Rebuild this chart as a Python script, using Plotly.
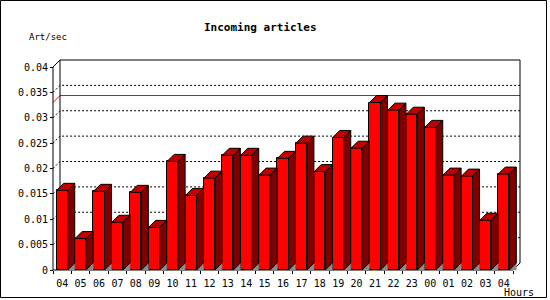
import plotly.graph_objects as go

# ---- data ----
hours = ["04", "05", "06", "07", "08", "09", "10", "11", "12", "13", "14", "15", "16",
         "17", "18", "19", "20", "21", "22", "23", "00", "01", "02", "03", "04"]
art_per_sec = [0.0157, 0.0062, 0.0155, 0.0094, 0.0153, 0.0084, 0.0214, 0.0147, 0.0181,
               0.0226, 0.0226, 0.0187, 0.0220, 0.0250, 0.0194, 0.0261, 0.0240, 0.0330,
               0.0315, 0.0307, 0.0281, 0.0187, 0.0185, 0.0098, 0.0189]
y_ticks = [0, 0.005, 0.01, 0.015, 0.02, 0.025, 0.03, 0.035, 0.04]
y_tick_text = ["0", "0.005", "0.01", "0.015", "0.02", "0.025", "0.03", "0.035", "0.04"]

# ---- geometry (pixel based layout) ----
W, H = 550, 300
L, R, T, B = 50, 524, 57, 273          # plot area in px
X0PX, Y0PX = 53, 270                   # front origin in px
SX = 460 / len(hours)                  # px per category
SY = 203 / 0.04                        # px per unit
DX = 7 / SX                            # depth in x units
DY = 7 / SY                            # depth in y units
BW = 0.6                               # bar front width
N = len(hours)
YTOP = 0.04 + DY

def px(xp):
    return (xp - L) / (R - L)

def py(yp):
    return (B - yp) / (B - T)

FONT = "DejaVu Sans Mono"
fig = go.Figure()

# front faces
centers = [i + 0.5 for i in range(N)]
fig.add_trace(go.Bar(x=centers, y=art_per_sec, width=BW,
                     marker=dict(color="#ff0000", line=dict(color="black", width=1)),
                     hoverinfo="skip", showlegend=False))

def poly_trace(pts_list, color, line_color="black", lw=1):
    xs, ys = [], []
    for pts in pts_list:
        for (a, b) in pts:
            xs.append(a); ys.append(b)
        xs.append(pts[0][0]); ys.append(pts[0][1])
        xs.append(None); ys.append(None)
    return go.Scatter(x=xs, y=ys, mode="lines", fill="toself", fillcolor=color,
                      line=dict(color=line_color, width=lw), hoverinfo="skip",
                      showlegend=False)

floor, sides, tops = [], [], []
for c, v in zip(centers, art_per_sec):
    xl, xr = c - BW / 2, c + BW / 2
    floor.append([(xr, 0), (xr + DX, DY), (xr + DX, 0)])
    sides.append([(xr, 0), (xr + DX, DY), (xr + DX, v + DY), (xr, v)])
    tops.append([(xl, v), (xl + DX, v + DY), (xr + DX, v + DY), (xr, v)])

fig.add_trace(poly_trace(floor, "#8c8c8c", line_color="#8c8c8c", lw=0.5))
fig.add_trace(poly_trace(sides, "#800000"))
fig.add_trace(poly_trace(tops, "#c00000"))

shapes = []
# dotted gridlines on the back wall
for v in y_ticks[1:-1]:
    shapes.append(dict(type="path", xref="x", yref="y", layer="below",
                       path=f"M 0,{v} L {DX},{v + DY} L {N + DX},{v + DY}",
                       line=dict(color="black", width=1, dash="2px,2px")))
# max line
vmax = max(art_per_sec)
shapes.append(dict(type="path", xref="x", yref="y", layer="below",
                   path=f"M 0,{vmax} L {DX},{vmax + DY} L {N + DX},{vmax + DY}",
                   line=dict(color="#ff0000", width=1)))
# frame lines
frame = [
    (0, 0, 0, 0.04),                 # front y axis
    (0, 0, N, 0),                    # front x axis
    (0, 0.04, DX, YTOP),             # top-left diagonal
    (DX, YTOP, N + DX, YTOP),        # back top
    (DX, DY, DX, YTOP),              # back left
    (N + DX, DY, N + DX, YTOP),      # back right
    (N, 0, N + DX, DY),              # bottom-right diagonal
]
for (a, b, c2, d) in frame:
    shapes.append(dict(type="line", xref="x", yref="y", x0=a, y0=b, x1=c2, y1=d,
                       layer="below", line=dict(color="black", width=1)))
# outer image border
shapes.append(dict(type="rect", xref="paper", yref="paper",
                   x0=px(0.5), x1=px(546.5), y0=py(297.5), y1=py(0.5),
                   line=dict(color="black", width=1), fillcolor="rgba(0,0,0,0)"))

annotations = [
    dict(text="<b>Incoming articles</b>", x=px(260), y=py(27), xref="paper", yref="paper",
         showarrow=False, font=dict(family=FONT, size=11, color="black"),
         xanchor="center", yanchor="middle"),
    dict(text="Art/sec", x=px(48), y=py(37), xref="paper", yref="paper",
         showarrow=False, font=dict(family=FONT, size=9, color="black"),
         xanchor="center", yanchor="middle"),
    dict(text="Hours", x=px(519), y=py(292), xref="paper", yref="paper",
         showarrow=False, font=dict(family=FONT, size=10, color="black"),
         xanchor="center", yanchor="middle"),
]

fig.update_layout(
    width=W, height=H,
    margin=dict(l=L, r=W - R, t=T, b=H - B, pad=0),
    paper_bgcolor="white", plot_bgcolor="white",
    shapes=shapes, annotations=annotations, bargap=0,
    xaxis=dict(range=[(L - X0PX) / SX, (R - X0PX) / SX], anchor="free",
               position=(B - Y0PX) / (B - T),
               tickmode="array", tickvals=centers, ticktext=hours,
               ticks="outside", ticklen=0, tickcolor="black", ticklabelstandoff=4,
               minor=dict(tickmode="array", tickvals=list(range(N + 1)),
                          ticks="outside", ticklen=3, tickcolor="black", showgrid=False),
               showgrid=False, zeroline=False, showline=False,
               tickfont=dict(family=FONT, size=10, color="black"), fixedrange=True),
    yaxis=dict(range=[(Y0PX - B) / SY, (Y0PX - T) / SY], anchor="free",
               position=(X0PX - L) / (R - L),
               tickmode="array", tickvals=y_ticks, ticktext=y_tick_text,
               ticks="outside", ticklen=3, tickcolor="black",
               showgrid=False, zeroline=False, showline=False,
               tickfont=dict(family=FONT, size=10, color="black"), fixedrange=True),
)

fig.write_html("out.html", config={"displayModeBar": False})
